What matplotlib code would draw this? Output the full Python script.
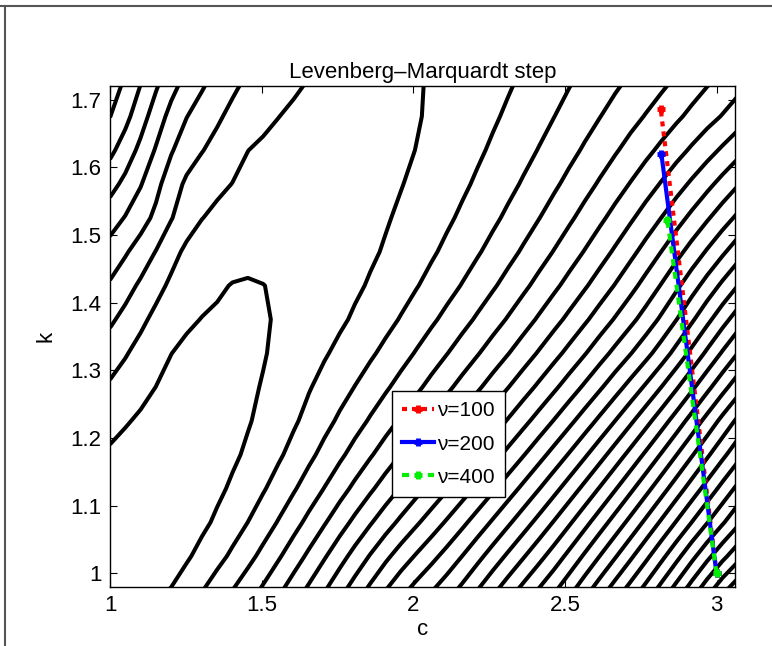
import numpy as np
import matplotlib
matplotlib.use('Agg')
import matplotlib.pyplot as plt
from matplotlib.lines import Line2D

plt.rcParams['font.family'] = ['Liberation Sans', 'DejaVu Sans']

# contour crossings: (c, k) and the contour index
cont_c = [1.0, 1.073, 1.181, 1.224, 1.363, 1.455, 1.538, 1.528, 1.518, 1.455, 1.313, 1.214,
          1.0, 1.106, 1.224, 1.373, 1.455, 1.501, 1.636,
          2.032, 1.940, 1.890, 1.768, 1.633, 1.445, 1.313,
          1.0, 1.148, 1.224, 1.336, 1.422, 1.930, 1.412,
          1.0, 1.155, 1.224, 1.313,
          1.0, 1.148, 1.221,
          1.0, 1.158, 1.0, 1.099, 1.0, 1.040,
          1.501, 1.577, 1.650, 1.719, 1.785, 1.851, 1.917,
          1.99, 2.077, 2.154, 2.22, 2.286, 2.352, 2.418, 2.484, 2.539, 2.594,
          2.649, 2.704, 2.759, 2.808, 2.858, 2.905, 2.95, 2.995, 3.04,
          3.061, 3.061, 3.061, 3.061, 3.061, 3.061, 3.061, 3.061, 3.061, 3.061,
          3.061, 3.061, 3.061, 3.061, 3.061, 3.061, 3.061, 3.061, 3.061, 3.061, 3.061, 3.061,
          2.032, 2.148, 2.253, 2.352, 2.441, 2.527, 2.606, 2.682, 2.758, 2.824,
          2.329, 2.517, 2.682, 2.837, 2.969,
          1.05, 1.3, 1.58, 1.6, 1.83]
cont_k = [1.193, 1.227, 1.305, 1.349, 1.392, 1.448, 1.392, 1.360, 1.308, 1.201, 1.057, 0.981,
          1.286, 1.360, 1.473, 1.556, 1.629, 1.641, 1.719,
          1.719, 1.541, 1.473, 1.360, 1.237, 1.068, 0.980,
          1.362, 1.473, 1.567, 1.638, 1.719, 1.360, 0.980,
          1.433, 1.541, 1.652, 1.719,
          1.500, 1.626, 1.719,
          1.556, 1.719, 1.611, 1.719, 1.673, 1.719,
          0.980, 0.980, 0.980, 0.980, 0.980, 0.980, 0.980,
          0.980, 0.980, 0.980, 0.980, 0.980, 0.980, 0.980, 0.980, 0.980, 0.980,
          0.980, 0.980, 0.980, 0.980, 0.980, 0.980, 0.980, 0.980, 0.980,
          0.990, 1.010, 1.039, 1.064, 1.094, 1.128, 1.158, 1.192, 1.227, 1.256,
          1.288, 1.320, 1.353, 1.386, 1.420, 1.455, 1.490, 1.528, 1.568, 1.608, 1.650, 1.695,
          1.345, 1.345, 1.345, 1.345, 1.345, 1.345, 1.345, 1.345, 1.345, 1.345,
          1.719, 1.719, 1.719, 1.719, 1.719,
          1.03, 1.3, 1.5, 1.3, 1.72]
cont_lev = [1] * 12 + [2] * 7 + [2] * 7 + [3] * 5 + [3, 3] + [4] * 4 + [5] * 3 + \
           [6, 6, 7, 7, 8, 8] + [4, 5, 6, 7, 8, 9, 10] + \
           list(range(11, 30)) + list(range(29, 7, -1)) + \
           list(range(4, 14)) + [3, 4, 5, 6, 7] + [0.5, 0.8, 1.5, 1.5, 1.6]

# Levenberg-Marquardt steps, all starting at (3, 1)
start_c, start_k = 3.0, 1.0
nu_labels = ['\u03bd=100', '\u03bd=200', '\u03bd=400']
end_c = [2.816, 2.818, 2.838]
end_k = [1.686, 1.620, 1.522]
colors = ['red', 'blue', '#00ee00']
styles = [(0, (1.2, 1.2)), '-', (0, (1.7, 1.4))]

KS = 2.23  # k stretch so distances follow the plot's pixel aspect


def tps_fit(x, y, z, lam):
    n = len(x)
    d = np.hypot(x[:, None] - x[None, :], y[:, None] - y[None, :])
    with np.errstate(divide='ignore', invalid='ignore'):
        kmat = np.where(d > 0, d ** 2 * np.log(d), 0.0)
    p = np.column_stack([np.ones(n), x, y])
    a = np.zeros((n + 3, n + 3))
    a[:n, :n] = kmat + lam * np.eye(n)
    a[:n, n:] = p
    a[n:, :n] = p.T
    sol = np.linalg.solve(a, np.concatenate([z, np.zeros(3)]))
    return sol[:n], sol[n:]


def tps_eval(x0, y0, w, a, gx, gy):
    d = np.hypot(gx[..., None] - x0, gy[..., None] - y0)
    with np.errstate(divide='ignore', invalid='ignore'):
        kmat = np.where(d > 0, d ** 2 * np.log(d), 0.0)
    return kmat @ w + a[0] + a[1] * gx + a[2] * gy


px = np.array(cont_c)
py = (np.array(cont_k) - 1.0) * KS
w, a = tps_fit(px, py, np.array(cont_lev, dtype=float), 0.002)

# coarse grid, like the original surface evaluation
cg = np.linspace(1.0, 3.07, 42)
kg = np.linspace(0.975, 1.725, 16)
C, K = np.meshgrid(cg, kg)
Z = tps_eval(px, py, w, a, C, (K - 1.0) * KS)

fig = plt.figure(figsize=(7.72, 6.46), dpi=100)
ax = fig.add_axes([0.1425, 0.0918, 0.8096, 0.7751])

ax.contour(C, K, Z, levels=np.arange(1, 40), colors='k', linewidths=2.9)

for i in range(3):
    ax.plot([start_c, end_c[i]], [start_k, end_k[i]], color=colors[i],
            linestyle=styles[i], linewidth=3, marker='+', markersize=6,
            markeredgewidth=3.5, label=nu_labels[i])

ax.set_xlim(1.0, 3.061)
ax.set_ylim(0.98, 1.72)
ax.set_xticks([1, 1.5, 2, 2.5, 3])
ax.set_xticklabels(['1', '1.5', '2', '2.5', '3'])
ax.set_yticks([1, 1.1, 1.2, 1.3, 1.4, 1.5, 1.6, 1.7])
ax.set_yticklabels(['1', '1.1', '1.2', '1.3', '1.4', '1.5', '1.6', '1.7'])
ax.tick_params(direction='in', length=5, width=0.8, top=True, right=True,
               labelsize=16, pad=6)
for s in ax.spines.values():
    s.set_linewidth(1.0)

ax.set_title('Levenberg\u2013Marquardt step', fontsize=16, pad=6)
ax.set_xlabel('c', fontsize=16, labelpad=2)
ax.set_ylabel('k', fontsize=16, labelpad=10)

leg = ax.legend(loc='upper left', bbox_to_anchor=(0.451, 0.391), borderaxespad=0,
                fontsize=15, handlelength=1.5, handletextpad=0.15,
                labelspacing=0.68, borderpad=0.5, fancybox=False,
                framealpha=1, edgecolor='black')
leg.get_frame().set_linewidth(1.0)

# window border lines seen at the top and left of the picture
fig.add_artist(Line2D([0, 1], [0.9907, 0.9907], color='#555555', linewidth=1.5,
                      transform=fig.transFigure))
fig.add_artist(Line2D([0.0065, 0.0065], [0, 0.9907], color='#555555', linewidth=1.5,
                      transform=fig.transFigure))

fig.savefig('out.png', dpi=100)
